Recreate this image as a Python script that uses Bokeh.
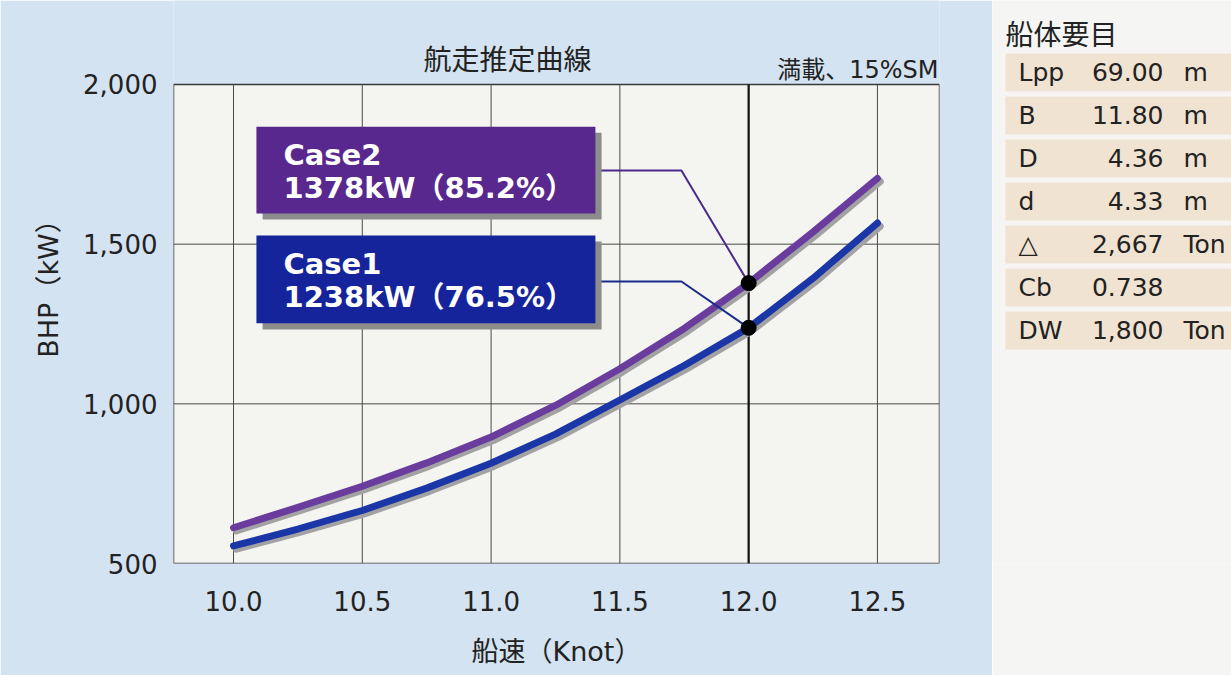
from bokeh.plotting import figure
from bokeh.models import Range1d, Label, BoxAnnotation, NumeralTickFormatter, FixedTicker, ColumnDataSource
from bokeh.layouts import row
from bokeh.embed import file_html
from bokeh.resources import INLINE
from bokeh.core.properties import value

# ---------------- data ----------------
speed = [10.0, 10.25, 10.5, 10.75, 11.0, 11.25, 11.5, 11.75, 12.0, 12.25, 12.5]
case2_bhp = [612, 676, 742, 815, 896, 995, 1110, 1236, 1378, 1538, 1706]
case1_bhp = [555, 608, 666, 736, 814, 905, 1012, 1120, 1238, 1393, 1566]

x_ticks = [10.0, 10.5, 11.0, 11.5, 12.0, 12.5]
y_ticks = [500, 1000, 1500, 2000]

design_speed = 12.0
case_names = ["Case2", "Case1"]
case_bhp_at_design = [1378, 1238]
case_load_pct = [85.2, 76.5]

spec_labels = ["Lpp", "B", "D", "d", "△", "Cb", "DW"]
spec_values = ["69.00", "11.80", "4.36", "4.33", "2,667", "0.738", "1,800"]
spec_units = ["m", "m", "m", "m", "Ton", "", "Ton"]

# ---------------- styles ----------------
FONT = "DejaVu Sans, Noto Sans CJK JP"
JFONT = "Noto Sans CJK JP"
TXT = "#222222"
BG_BLUE = "#d4e3f1"
PLOT_BG = "#f4f4f1"
RIGHT_BG = "#f5f5f3"
PURPLE_LINE = "#6a3c9e"
BLUE_LINE = "#1b36a6"
PURPLE_BOX = "#58288f"
BLUE_BOX = "#15249a"
GRID = "#4a4a4a"

X_MIN, X_MAX = 9.767, 12.741
Y_MIN, Y_MAX = 500, 2000
Y_TOP = 2263.0  # frame continues above the plot area (blue) to host the titles

# ---------------- main chart ----------------
p = figure(width=992, height=675, title_location=None,
           x_range=Range1d(X_MIN, X_MAX), y_range=Range1d(Y_MIN, Y_TOP),
           output_backend="svg", toolbar_location=None,
           min_border_left=173, min_border_right=53,
           min_border_top=0, min_border_bottom=112)
p.background_fill_color = BG_BLUE
p.border_fill_color = BG_BLUE
p.outline_line_color = None
p.grid.visible = False

p.xaxis.ticker = FixedTicker(ticks=x_ticks)
p.yaxis.ticker = FixedTicker(ticks=y_ticks)
p.xaxis.formatter = NumeralTickFormatter(format="0.0")
p.yaxis.formatter = NumeralTickFormatter(format="0,0")
for ax in (p.xaxis, p.yaxis):
    ax.axis_line_color = None
    ax.major_tick_line_color = None
    ax.minor_tick_line_color = None
    ax.major_label_text_font = FONT
    ax.major_label_text_font_size = "26px"
    ax.major_label_text_color = TXT
    ax.axis_label_text_font = FONT
    ax.axis_label_text_font_size = "27px"
    ax.axis_label_text_font_style = "normal"
    ax.axis_label_text_color = TXT
p.yaxis.major_label_standoff = 10
p.xaxis.major_label_standoff = 21
p.yaxis.axis_label = "BHP（kW）"
p.xaxis.axis_label = "船速（Knot）"
p.yaxis.axis_label_standoff = 16
p.xaxis.axis_label_standoff = 22

# white plot area with outline
p.quad(left=[X_MIN], right=[X_MAX], bottom=[Y_MIN], top=[Y_MAX],
       fill_color=PLOT_BG, line_color="#3a3a3a", line_width=1.5)
# grid lines
p.segment(x0=x_ticks, x1=x_ticks, y0=[Y_MIN] * len(x_ticks), y1=[Y_MAX] * len(x_ticks),
          line_color=GRID, line_width=1)
inner_y = [v for v in y_ticks if Y_MIN < v < Y_MAX]
p.segment(x0=[X_MIN] * len(inner_y), x1=[X_MAX] * len(inner_y), y0=inner_y, y1=inner_y,
          line_color=GRID, line_width=1)
# design-speed line
p.segment(x0=[design_speed], x1=[design_speed], y0=[Y_MIN], y1=[Y_MAX],
          line_color="#111111", line_width=2.2)

# curves with drop shadow
sdx, sdy = 0.011, -10
for vals in (case2_bhp, case1_bhp):
    p.line([s + sdx for s in speed], [v + sdy for v in vals], line_color="#a2a2a2",
           line_width=7, line_cap="round", line_join="round")
p.line(speed, case2_bhp, line_color=PURPLE_LINE, line_width=7, line_cap="round", line_join="round")
p.line(speed, case1_bhp, line_color=BLUE_LINE, line_width=7, line_cap="round", line_join="round")

# annotation boxes
box_left, box_right = 10.089, 11.405
box_tops = [1868, 1527]
box_bottoms = [1596, 1252]
box_colors = [PURPLE_BOX, BLUE_BOX]
conn_colors = ["#4b2a8c", "#1a2a8c"]
conn_y = [1731, 1383]
conn_x_knee = 11.739
for i in range(2):
    p.add_layout(BoxAnnotation(left=box_left + 0.024, right=box_right + 0.024,
                               top=box_tops[i] - 19, bottom=box_bottoms[i] - 19,
                               fill_color="#8c8c8c", fill_alpha=1, line_color=None))
    p.add_layout(BoxAnnotation(left=box_left, right=box_right,
                               top=box_tops[i], bottom=box_bottoms[i],
                               fill_color=box_colors[i], fill_alpha=1, line_color=None))
    p.line([box_right, conn_x_knee, design_speed],
           [conn_y[i], conn_y[i], case_bhp_at_design[i]],
           line_color=conn_colors[i], line_width=2)
    top_line = box_tops[i] - 88
    p.add_layout(Label(x=box_left + 0.105, y=top_line, text=case_names[i],
                       text_color="white", text_font=FONT, text_font_style="bold",
                       text_font_size="29px", text_baseline="middle", text_align="left"))
    p.add_layout(Label(x=box_left + 0.105, y=top_line - 103,
                       text=f"{case_bhp_at_design[i]}kW（{case_load_pct[i]}%）",
                       text_color="white", text_font=FONT, text_font_style="bold",
                       text_font_size="29px", text_baseline="middle", text_align="left"))

p.scatter([design_speed] * len(case_bhp_at_design), case_bhp_at_design,
          size=15, color="#000000")

p.add_layout(Label(x=11.064, y=2084, text="航走推定曲線", text_font=JFONT,
                   text_font_size="28px", text_color=TXT,
                   text_align="center", text_baseline="middle"))
p.add_layout(Label(x=12.737, y=2044, text="満載、15%SM", text_font=FONT,
                   text_font_size="24px", text_color=TXT,
                   text_align="right", text_baseline="middle"))

# ---------------- spec table ----------------
t = figure(width=239, height=675, title_location=None,
           x_range=Range1d(0, 239), y_range=Range1d(11.419, -1.674),
           output_backend="svg", toolbar_location=None,
           min_border_left=0, min_border_right=0, min_border_top=0, min_border_bottom=112)
t.background_fill_color = RIGHT_BG
t.border_fill_color = RIGHT_BG
t.outline_line_color = None
t.axis.visible = False
t.grid.visible = False

rows = list(range(len(spec_labels)))
src = ColumnDataSource(dict(r=rows, lab=spec_labels, val=spec_values, unit=spec_units))
t.rect(x=126, y="r", width=226, height=0.884, source=src, fill_color="#f1e3d1", line_color=None)
t.text(x=26, y="r", text="lab", source=src, text_font=value(FONT), text_font_size="25px",
       text_color=TXT, text_baseline="middle", text_align="left")
t.text(x=171, y="r", text="val", source=src, text_font=value(FONT), text_font_size="25px",
       text_color=TXT, text_baseline="middle", text_align="right")
t.text(x=191, y="r", text="unit", source=src, text_font=value(FONT), text_font_size="25px",
       text_color=TXT, text_baseline="middle", text_align="left")
t.add_layout(Label(x=13, y=-0.907, text="船体要目", text_font=JFONT, text_font_size="28px",
                   text_color=TXT, text_align="left", text_baseline="middle"))

layout = row(p, t)
open("out.html", "w").write(file_html(layout, INLINE))
